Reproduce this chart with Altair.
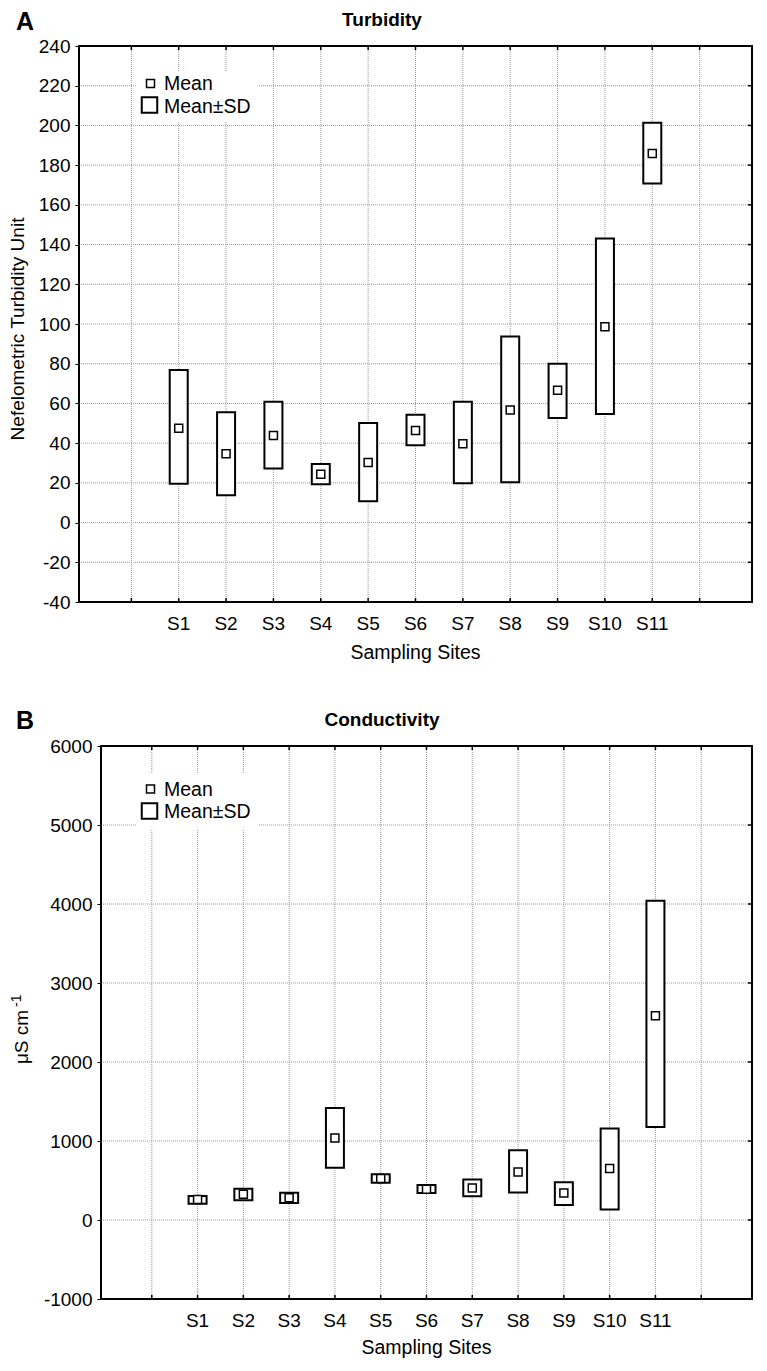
import altair as alt
import pandas as pd

FONT = "Liberation Sans"

# ---------------- data ----------------
sites = ["S1", "S2", "S3", "S4", "S5", "S6", "S7", "S8", "S9", "S10", "S11"]
site_pos = [2, 3, 4, 5, 6, 7, 8, 9, 10, 11, 12]
x_ticks = [1, 2, 3, 4, 5, 6, 7, 8, 9, 10, 11, 12, 13]

turb_mean = [47.5, 34.7, 43.8, 24.3, 30.2, 46.4, 39.7, 56.7, 66.6, 98.6, 185.9]
turb_low = [19.6, 13.8, 27.2, 19.3, 10.7, 38.9, 19.8, 20.3, 52.7, 54.7, 170.7]
turb_high = [76.8, 55.5, 60.9, 29.5, 50.1, 54.3, 60.9, 93.7, 80.0, 143.1, 201.4]
turb_yticks = [-40, -20, 0, 20, 40, 60, 80, 100, 120, 140, 160, 180, 200, 220, 240]

cond_mean = [258, 325, 283, 1037, 525, 389, 404, 607, 341, 653, 2586]
cond_low = [207, 250, 216, 661, 470, 343, 300, 347, 191, 133, 1178]
cond_high = [304, 395, 345, 1417, 580, 442, 512, 884, 479, 1157, 4040]
cond_yticks = [-1000, 0, 1000, 2000, 3000, 4000, 5000, 6000]

one = pd.DataFrame({"a": [0]})
GRID = dict(color="#9a9a9a", strokeWidth=1, strokeDash=[1, 1])


def txt(text, x, y, size, weight="normal", align="left", angle=0):
    return alt.Chart(one).mark_text(
        text=text, font=FONT, fontSize=size, fontWeight=weight, align=align,
        baseline="alphabetic", angle=angle, color="black"
    ).encode(x=alt.value(x), y=alt.value(y))


def panel(mean, low, high, yticks, x0, W, H, xtitle_y, decorations, legend):
    df = pd.DataFrame({"pos": site_pos, "site": sites, "mean": mean,
                       "low": low, "high": high})
    xs = alt.Scale(domain=[0, 14], range=[x0, W], nice=False, zero=False)
    ys = alt.Scale(domain=[yticks[0], yticks[-1]], nice=False, zero=False)
    yaxis = alt.Axis(values=yticks, labelExpr="'' + datum.value", tickSize=4,
                     tickColor="black", labelPadding=5, offset=-x0,
                     domain=False, grid=False, title=None)
    X = lambda f: alt.X(f, scale=xs, axis=None)
    Y = lambda f: alt.Y(f, scale=ys, axis=yaxis)

    dxt = pd.DataFrame({"v": x_ticks})
    dyt = pd.DataFrame({"v": yticks[1:-1]})

    ygrid = alt.Chart(dyt).mark_rule(**GRID).encode(
        y=Y("v:Q"), x=alt.value(x0), x2=alt.value(W))
    xgrid = alt.Chart(dxt).mark_rule(**GRID).encode(
        x=X("v:Q"), y=alt.value(0), y2=alt.value(H))

    lx0, lx1, ly0, ly1, sq_small, sq_big, tx, tb1, tb2 = legend
    legend_bg = alt.Chart(one).mark_rect(fill="white", strokeWidth=0).encode(
        x=alt.value(lx0), x2=alt.value(lx1), y=alt.value(ly0), y2=alt.value(ly1))

    base = alt.Chart(df)
    boxes = base.mark_bar(size=18, fill="white", stroke="black", strokeWidth=2).encode(
        x=X("pos:Q"), y=Y("low:Q"), y2="high:Q")
    means = base.mark_square(size=64, fill="white", stroke="black", strokeWidth=1.5,
                             opacity=1).encode(x=X("pos:Q"), y=Y("mean:Q"))
    xlabels = base.mark_text(font=FONT, fontSize=19, align="center",
                             baseline="alphabetic", color="black").encode(
        x=X("pos:Q"), y=alt.value(H + 27.5), text="site:N")

    top_t = alt.Chart(dxt).mark_rule(color="black", strokeWidth=1.5).encode(
        x=X("v:Q"), y=alt.value(0), y2=alt.value(4))
    bot_t = alt.Chart(dxt).mark_rule(color="black", strokeWidth=1.5).encode(
        x=X("v:Q"), y=alt.value(H), y2=alt.value(H - 4))
    right_t = alt.Chart(dyt).mark_rule(color="black", strokeWidth=1.5).encode(
        y=Y("v:Q"), x=alt.value(W), x2=alt.value(W - 4))

    frame = alt.Chart(one).mark_rect(fill="white", fillOpacity=0, stroke="black",
                                     strokeWidth=2).encode(
        x=alt.value(x0), x2=alt.value(W), y=alt.value(0), y2=alt.value(H))

    leg_small = alt.Chart(one).mark_square(size=64, fill="white", stroke="black",
                                           strokeWidth=1.5, opacity=1).encode(
        x=alt.value(sq_small[0]), y=alt.value(sq_small[1]))
    leg_big = alt.Chart(one).mark_square(size=240, fill="white", stroke="black",
                                         strokeWidth=2, opacity=1).encode(
        x=alt.value(sq_big[0]), y=alt.value(sq_big[1]))
    leg_t1 = txt("Mean", tx, tb1, 19.5)
    leg_t2 = txt("Mean±SD", tx, tb2, 19.5)
    xtitle = txt("Sampling Sites", (x0 + W) / 2, H + xtitle_y, 19.5, align="center")

    layers = [xgrid, ygrid, legend_bg, boxes, means, top_t, bot_t, right_t, frame,
              leg_small, leg_big, leg_t1, leg_t2, xlabels, xtitle] + decorations
    return alt.layer(*layers).properties(width=W, height=H)


W = 651
HA, HB = 556, 553

# panel A: frame starts 22 px left of the shared column origin
decA = [
    txt("A", -85, -16, 25, weight="bold"),
    txt("Turbidity", 281, -20, 19, weight="bold", align="center"),
    txt("Nefelometric Turbidity Unit", -77, 283, 19, align="center", angle=270),
]
decB = [
    txt("B", -85, -17, 25, weight="bold"),
    txt("Conductivity", 281, -20, 19, weight="bold", align="center"),
    txt("μS cm", -73, 291, 19, align="center", angle=270),
    txt("-1", -80.5, 261, 14, align="left", angle=270),
]

panelA = panel(turb_mean, turb_low, turb_high, turb_yticks, -22, W, HA, 57, decA,
               (36, 158, 25, 75, (49.5, 37.5), (48.5, 59), 63, 44, 67))
panelB = panel(cond_mean, cond_low, cond_high, cond_yticks, 0, W, HB, 55, decB,
               (36, 158, 28, 83, (49.5, 43), (48.5, 65), 63, 50, 72))

chart = alt.vconcat(panelA, panelB, spacing=46).properties(
    padding={"left": 1, "top": 2, "right": 0, "bottom": 0}, background="white"
).configure_view(strokeWidth=0).configure_axis(
    labelFont=FONT, labelFontSize=19, labelColor="black",
    titleFont=FONT, titleFontSize=19.5, titleColor="black", titleFontWeight="normal",
)

chart.save("out.html", embed_options={"renderer": "svg", "actions": False})
